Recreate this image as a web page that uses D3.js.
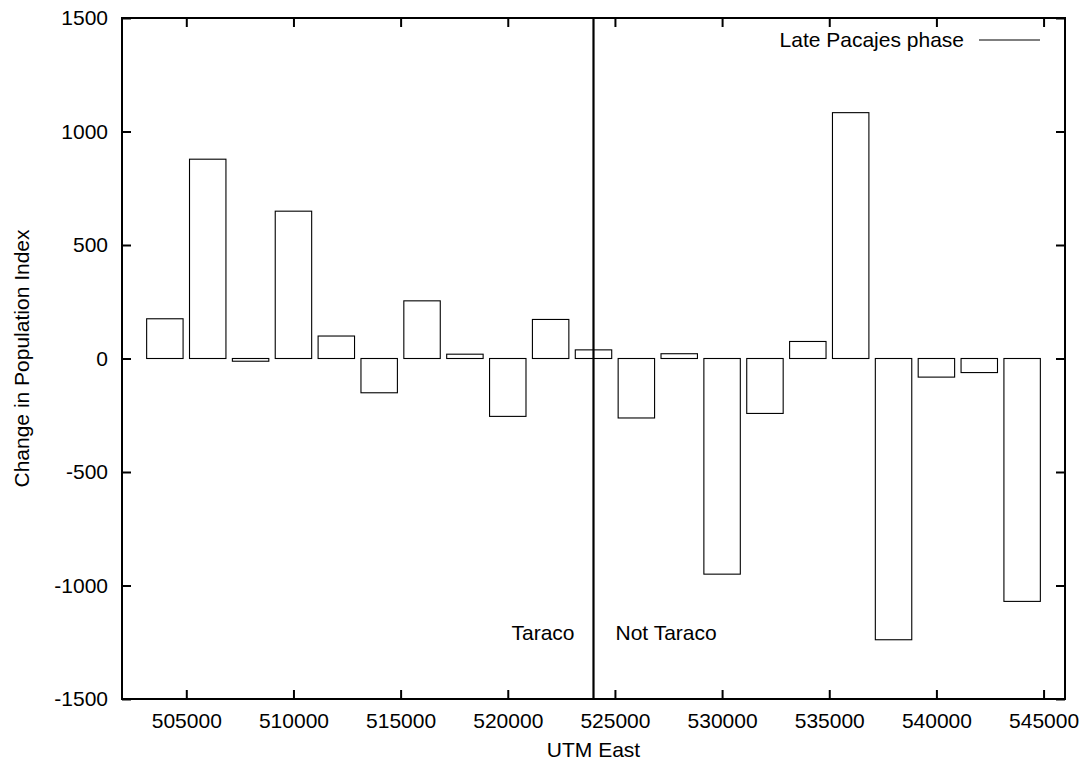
<!DOCTYPE html>
<html><head><meta charset="utf-8">
<script src="https://cdn.jsdelivr.net/npm/d3@7"></script>
<style>
html,body{margin:0;padding:0;background:#fff;}
text{font-family:"Liberation Sans",Arial,Helvetica,sans-serif;fill:#000;}
</style></head>
<body><svg id="c" width="1081" height="763"></svg>
<script>
const utmEast = [504000, 506000, 508000, 510000, 512000, 514000, 516000, 518000, 520000, 522000, 524000,
                 526000, 528000, 530000, 532000, 534000, 536000, 538000, 540000, 542000, 544000];
const popChange = [175, 878, -12, 649, 99, -151, 254, 19, -255, 172, 38,
                   -262, 21, -950, -242, 75, 1083, -1239, -82, -62, -1070];
const xTicks = [505000, 510000, 515000, 520000, 525000, 530000, 535000, 540000, 545000];
const yTicks = [-1500, -1000, -500, 0, 500, 1000, 1500];
const boundaryEast = 524000;
const seriesName = "Late Pacajes phase";
const regionLabels = ["Taraco", "Not Taraco"];

const L = 122, R = 1065, T = 18, B = 699;
const svg = d3.select("#c");
const x = d3.scaleLinear().domain([502000, 546000]).range([L, R]);
const y = d3.scaleLinear().domain([-1500, 1500]).range([B, T]);
const boxW = 1700;
const tick = 9;
const fs = 21;

// bars
svg.append("g").selectAll("rect").data(utmEast).join("rect")
  .attr("x", d => x(d - boxW/2))
  .attr("width", d => x(d + boxW/2) - x(d - boxW/2))
  .attr("y", (d,i) => y(Math.max(0, popChange[i])))
  .attr("height", (d,i) => Math.abs(y(popChange[i]) - y(0)))
  .attr("fill", "none").attr("stroke", "#000").attr("stroke-width", 1.1);

// axes with inward ticks
const fmt = d => String(d);
const axB = svg.append("g").attr("transform", `translate(0,${B})`)
  .call(d3.axisBottom(x).tickValues(xTicks).tickFormat(fmt).tickSizeInner(-tick).tickSizeOuter(0).tickPadding(tick + 5));
const axT = svg.append("g").attr("transform", `translate(0,${T})`)
  .call(d3.axisTop(x).tickValues(xTicks).tickFormat("").tickSizeInner(-tick).tickSizeOuter(0));
const axL = svg.append("g").attr("transform", `translate(${L},0)`)
  .call(d3.axisLeft(y).tickValues(yTicks).tickFormat(fmt).tickSizeInner(-tick).tickSizeOuter(0).tickPadding(tick + 5));
const axR = svg.append("g").attr("transform", `translate(${R},0)`)
  .call(d3.axisRight(y).tickValues(yTicks).tickFormat("").tickSizeInner(-tick).tickSizeOuter(0));
[axB, axT, axL, axR].forEach(a => {
  a.selectAll(".domain").remove();
  a.selectAll(".tick line").attr("stroke", "#000").attr("stroke-width", 2);
  a.selectAll("text").attr("font-size", fs).attr("font-family", "Liberation Sans, Arial, sans-serif").attr("fill", "#000");
});
// frame
svg.append("rect").attr("x", L).attr("y", T).attr("width", R - L).attr("height", B - T)
  .attr("fill", "none").attr("stroke", "#000").attr("stroke-width", 2);

// boundary line
svg.append("line").attr("x1", x(boundaryEast)).attr("x2", x(boundaryEast))
  .attr("y1", y(1500)).attr("y2", y(-1500)).attr("stroke", "#000").attr("stroke-width", 2.2);

// region labels
svg.append("text").attr("x", x(boundaryEast) - 19).attr("y", 640).attr("text-anchor", "end")
  .attr("font-size", fs).text(regionLabels[0]);
svg.append("text").attr("x", x(boundaryEast) + 22).attr("y", 640).attr("text-anchor", "start")
  .attr("font-size", fs).text(regionLabels[1]);

// legend
svg.append("text").attr("x", 964).attr("y", 47).attr("text-anchor", "end").attr("font-size", fs).text(seriesName);
svg.append("line").attr("x1", 979).attr("x2", 1040).attr("y1", 40).attr("y2", 40).attr("stroke", "#000").attr("stroke-width", 1.2);

// axis titles
svg.append("text").attr("x", (L + R) / 2).attr("y", 757).attr("text-anchor", "middle").attr("font-size", fs).text("UTM East");
svg.append("text").attr("transform", `translate(29,${(T + B) / 2}) rotate(-90)`).attr("text-anchor", "middle")
  .attr("font-size", fs).text("Change in Population Index");
</script></body></html>
